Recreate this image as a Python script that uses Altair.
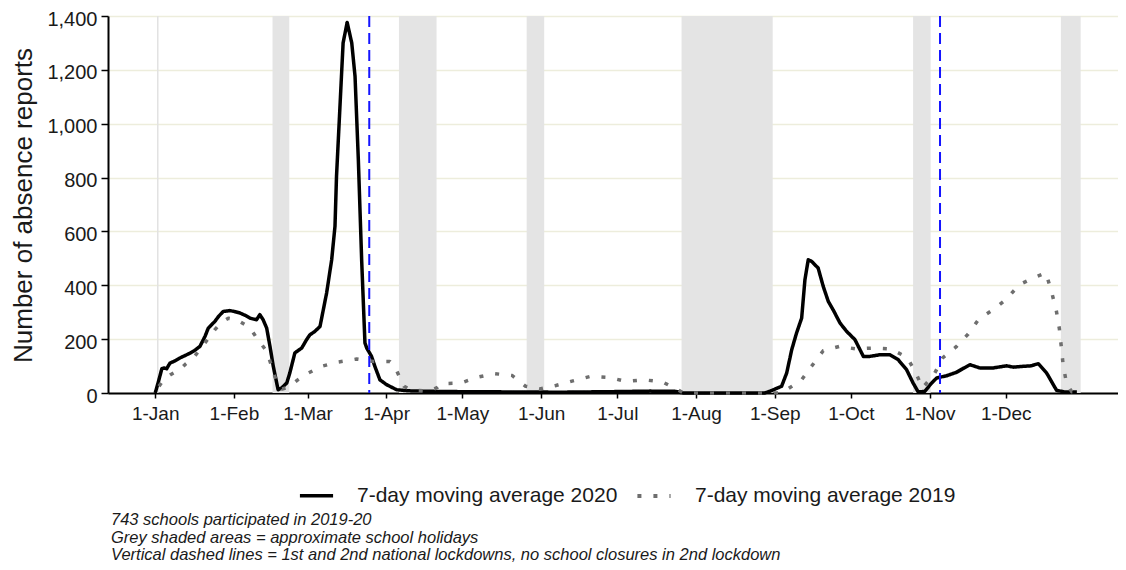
import altair as alt
import pandas as pd

# ---- data (days since 1 January 2020) ----
days_2020 = [0, 1.2, 2.6, 3.5, 4.5, 5.8, 7.5, 9.7, 11.5, 13.7, 15.5, 17.6, 19.6, 20.9, 23.5, 25, 26.8,
             29.4, 31, 33.4, 35.5, 37.3, 39.9, 41.2, 42.5, 43.9, 45.2, 46.5, 48.4, 49.8, 51.8, 53, 55,
             57.7, 59.6, 60.9, 62.9, 64.9, 66.2, 67.5, 69.5, 70.8, 71.4, 72.7, 74.0, 75.6, 77.4, 78.7,
             80.0, 81.3, 82.6, 83.3, 85.2, 86.5, 88.5, 91.1, 95.1, 100, 110, 120, 140, 160, 180, 195,
             205, 208, 240, 242, 246.7, 248.7, 250.7, 252.6, 254.6, 255.9, 257.2, 258.5, 261.1, 263.1,
             265.1, 267, 269.7, 272.3, 275.6, 278.9, 281.5, 285.4, 289.4, 292.6, 295.9, 298.5, 300.5,
             303.1, 305.8, 307.8, 311.7, 315.6, 318, 320.9, 324.8, 330, 335.3, 338, 341.9, 345, 347.8,
             351.1, 355, 358, 363]
vals_2020 = [0, 40, 90, 93, 90, 111, 118, 130, 138, 148, 158, 173, 210, 241, 266, 285, 303,
             306, 303, 297, 288, 278, 272, 291, 272, 241, 173, 99, 12, 19, 37, 74, 149,
             167, 198, 216, 229, 247, 309, 371, 495, 619, 804, 1052, 1300, 1376, 1300, 1176,
             866, 495, 186, 167, 136, 99, 49, 31, 12, 8, 6, 5, 4, 3, 5, 7,
             6, 0, 0, 6, 25, 74, 161, 223, 278, 421, 495, 489, 464, 396,
             340, 309, 260, 229, 198, 136, 136, 142, 142, 124, 87, 37, 4,
             6, 37, 56, 64, 77, 90, 105, 93, 93, 101, 96, 99, 101, 109,
             74, 10, 4, 4]

days_2019 = [1.5, 3.2, 6, 9.7, 12, 15, 19.6, 23.5, 26, 28.8, 32, 35.3, 38, 40, 43.9, 46, 48, 50, 52,
             53.7, 56, 59, 65.5, 72, 79.3, 85.9, 92.4, 94.5, 96.4, 98, 101, 108, 111, 112.8, 120.4,
             126.6, 133.5, 140.6, 145.9, 151.5, 157.8, 164.9, 171.6, 178.6, 185.3, 192.5, 199.8,
             205.8, 208, 246, 248.7, 254.6, 258.8, 263.1, 269.4, 275.9, 282.8, 289.8, 296.2, 299.6,
             302.2, 306.7, 310.1, 315.4, 320.2, 324.4, 330, 335.3, 340.3, 345.8, 350.8, 353, 354.9,
             356.1, 356.9, 357.6, 359, 361, 364]
vals_2019 = [25, 49, 68, 87, 108, 130, 186, 235, 262, 278, 272, 254, 232, 204, 155, 95, 35, 15, 20,
             31, 48, 68, 99, 115, 126, 117, 117, 95, 56, 25, 10, 8, 20, 35, 37,
             58, 72, 65, 25, 15, 28, 46, 62, 58, 43, 49, 41,
             12, 0, 0, 12, 49, 103, 157, 173, 164, 167, 163, 132, 74,
             19, 68, 130, 171, 219, 275, 309, 349, 402, 427, 446, 377, 306,
             239, 169, 103, 33, 5, 2]

holiday_start = [46.2, 96.0, 146.3, 207.3, 298.5, 356.7]
holiday_end = [52.8, 110.8, 153.2, 243.2, 305.4, 364.5]
lockdown_days = [84.3, 309.1]
gridline_days = [1.0]

series_names = ["7-day moving average 2020", "7-day moving average 2019"]
y_ticks = [0, 200, 400, 600, 800, 1000, 1200, 1400]
month_ticks = [alt.DateTime(year=2020, month=m, date=1) for m in range(1, 13)]
caption_lines = ["743 schools participated in 2019-20",
                 "\u00a0Grey shaded areas = approximate school holidays",
                 "\u00a0Vertical dashed lines = 1st and 2nd national lockdowns, no school closures in 2nd lockdown"]

# ---- build tables ----
base = pd.Timestamp("2020-01-01")


def to_dates(days):
    return [base + pd.to_timedelta(d, unit="D") for d in days]


lines_df = pd.concat([
    pd.DataFrame({"date": to_dates(days_2020), "value": vals_2020, "series": series_names[0]}),
    pd.DataFrame({"date": to_dates(days_2019), "value": vals_2019, "series": series_names[1]}),
], ignore_index=True)
bands_df = pd.DataFrame({"start": to_dates(holiday_start), "end": to_dates(holiday_end)})
lock_df = pd.DataFrame({"date": to_dates(lockdown_days)})
grid_df = pd.DataFrame({"date": to_dates(gridline_days)})

FONT = "Arial"
TXT = "#1a1a1a"

xscale = alt.Scale(domain=[alt.DateTime(year=2019, month=12, date=13, hours=9, minutes=36),
                           alt.DateTime(year=2021, month=1, date=14, hours=4, minutes=48)])
xaxis = alt.Axis(values=month_ticks, format="%-d-%b", title=None, grid=False,
                 labelFontSize=19, labelFont=FONT, labelColor=TXT, labelPadding=6,
                 tickSize=5, tickColor="#000000", tickWidth=1.5,
                 domainColor="#000000", domainWidth=2, labelFlush=False)
yscale = alt.Scale(domain=[0, 1400], nice=False)
yaxis = alt.Axis(values=y_ticks, format=",d", title="Number of absence reports",
                 grid=True, gridColor="#EDEDDC", gridWidth=1.6,
                 labelFontSize=20, labelFont=FONT, labelColor=TXT, labelPadding=4, labelOffset=3,
                 tickSize=7, tickColor="#000000", tickWidth=1.5,
                 domainColor="#000000", domainWidth=2,
                 titleFontSize=26, titleFont=FONT, titleColor=TXT, titleFontWeight="normal",
                 titleAngle=-90, titleX=-85, titleY=189, titleAlign="center", titleBaseline="middle")


def X(field):
    return alt.X(field, type="temporal", scale=xscale, axis=xaxis, title=None)


bands = alt.Chart(bands_df).mark_rect(color="#E4E4E4").encode(
    x=X("start"), x2="end")

jan_line = alt.Chart(grid_df).mark_rule(color="#E2E2E2", strokeWidth=1.5).encode(x=X("date"))

legend = alt.Legend(orient="none", legendX=190, legendY=461, direction="horizontal", title=None,
                    symbolType="stroke", symbolSize=1100, symbolStrokeWidth=4.5,
                    labelFontSize=21, labelFont=FONT, labelColor=TXT, labelOffset=22,
                    columnPadding=11, padding=0, labelLimit=400)

lines = alt.Chart(lines_df).mark_line(strokeWidth=3.5, strokeCap="butt", strokeJoin="round").encode(
    x=X("date"),
    y=alt.Y("value:Q", scale=yscale, axis=yaxis),
    color=alt.Color("series:N", scale=alt.Scale(domain=series_names, range=["#000000", "#6e6e6e"]),
                    legend=legend),
    strokeDash=alt.StrokeDash("series:N", scale=alt.Scale(domain=series_names, range=[[1, 0], [4, 12]]),
                              legend=legend),
    strokeWidth=alt.StrokeWidth("series:N", scale=alt.Scale(domain=series_names, range=[3.5, 4.2]),
                                legend=None),
)

lock = alt.Chart(lock_df).mark_rule(color="#1414FF", strokeWidth=2, strokeDash=[11, 6]).encode(x=X("date"))

chart = alt.layer(bands, jan_line, lines, lock).properties(
    width=1010, height=377,
    autosize=alt.AutoSizeParams(type="none"),
    padding={"left": 100, "top": 8, "right": 0, "bottom": 169},
    title=alt.TitleParams(text=caption_lines, orient="bottom", anchor="start", frame="group",
                          fontSize=16.5, font=FONT, fontStyle="italic", fontWeight="normal",
                          color=TXT, lineHeight=17.5, offset=6, dx=3),
).configure_view(stroke=None).configure(background="white")

chart.save("out.html", embed_options={"renderer": "svg", "actions": False})
